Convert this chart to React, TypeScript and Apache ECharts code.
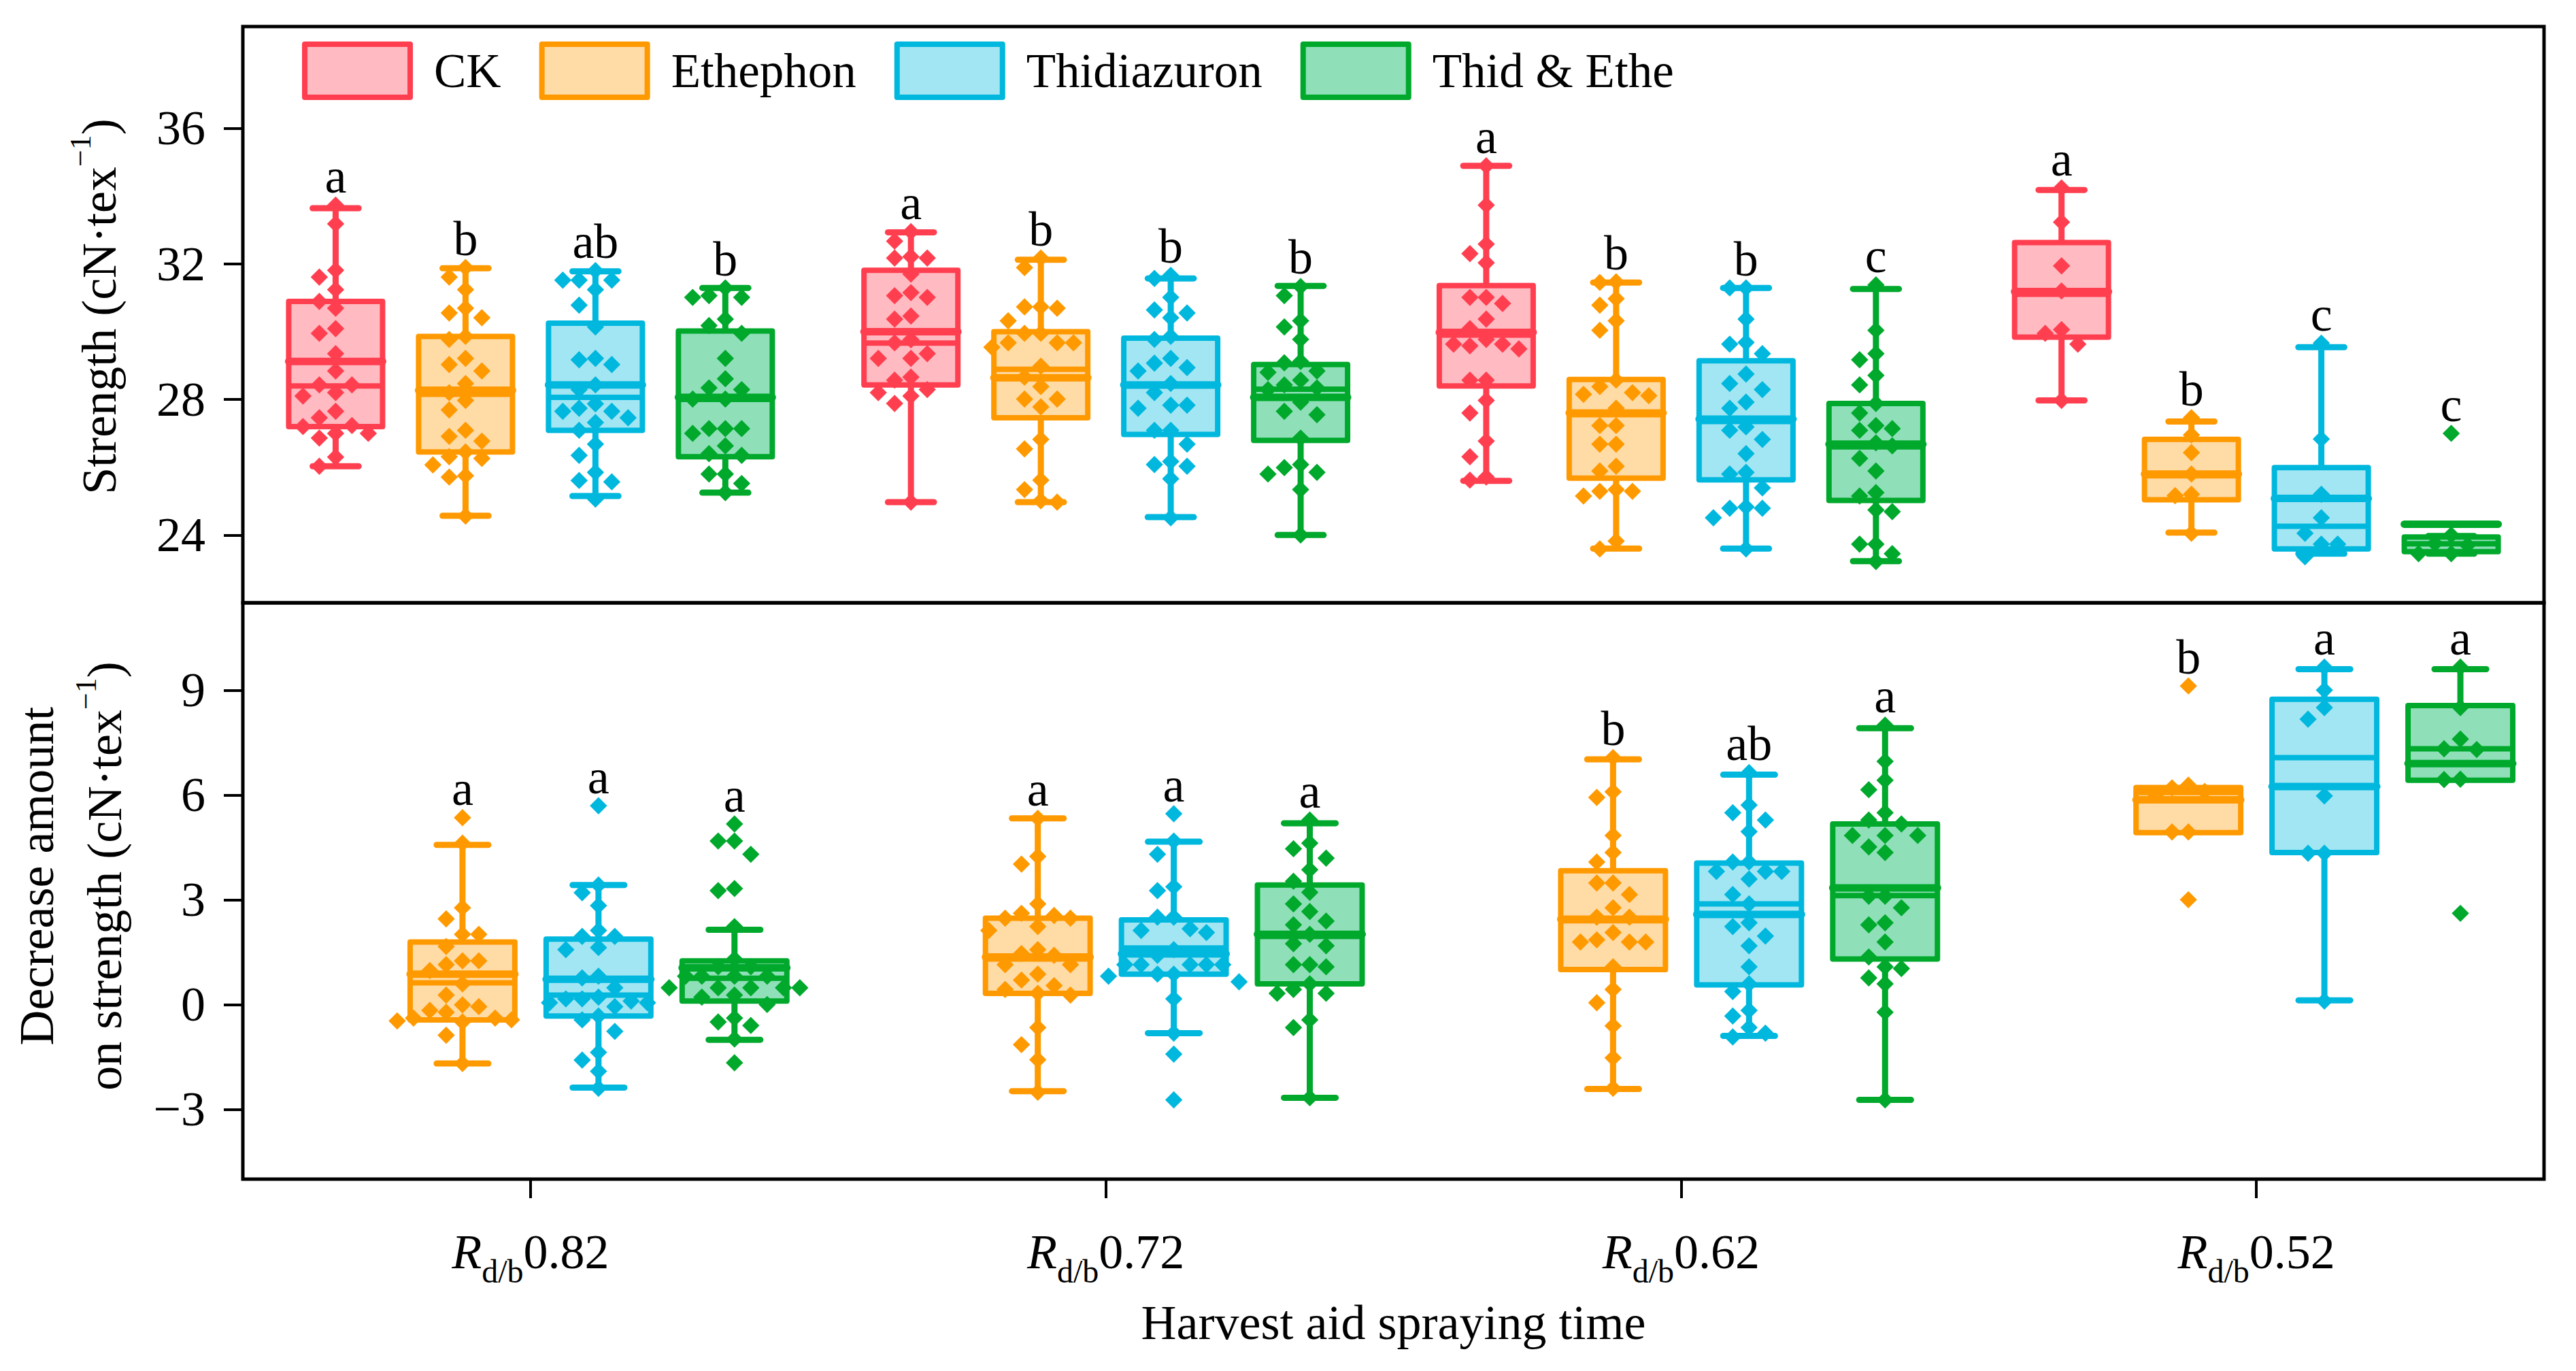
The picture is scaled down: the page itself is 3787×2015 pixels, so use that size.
import React, { useEffect, useRef } from 'react';
import * as echarts from 'echarts';

const SERIF = 'Liberation Serif, Times New Roman, serif';

const CATEGORIES = ['0.82', '0.72', '0.62', '0.52'];
const TREATMENTS = ['CK', 'Ethephon', 'Thidiazuron', 'Thid & Ethe'];
const STROKES = ['#FF3F50', '#FF9900', '#00B7DE', '#00A82C'];
const FILLS = ['#FFBAC2', '#FFDBA6', '#A3E6F3', '#8FE0B9'];

const STRENGTH_TICKS = [24, 28, 32, 36];
const DECREASE_TICKS = [-3, 0, 3, 6, 9];

// Box statistics per category: [lower whisker, Q1, median, mean, Q3, upper whisker]
const STRENGTH_BOX_CK = [
  [26.03, 27.2, 28.4, 29.12, 30.89, 33.64],
  [24.97, 28.43, 29.66, 30.0, 31.81, 32.93],
  [25.6, 28.4, 29.9, 29.98, 31.36, 34.89],
  [27.97, 29.84, 31.1, 31.18, 32.63, 34.18],
];
const STRENGTH_BOX_ETH = [
  [24.57, 26.45, 28.15, 28.27, 29.86, 31.87],
  [24.97, 27.46, 28.89, 28.64, 30.0, 32.12],
  [23.6, 25.68, 27.55, 27.6, 28.59, 31.45],
  [24.07, 25.04, 25.75, 25.8, 26.82, 27.35],
];
const STRENGTH_BOX_THID = [
  [25.15, 27.09, 28.06, 28.43, 30.25, 31.78],
  [24.53, 26.97, 28.4, 28.43, 29.81, 31.57],
  [23.6, 25.63, 27.35, 27.42, 29.14, 31.29],
  [23.45, 23.59, 24.26, 25.08, 25.99, 29.54],
];
const STRENGTH_BOX_TE = [
  [25.25, 26.31, 28.0, 28.06, 30.02, 31.29],
  [24.0, 26.79, 28.3, 28.06, 29.03, 31.35],
  [23.23, 25.02, 26.6, 26.68, 27.88, 31.26],
  [23.45, 23.51, 23.74, 24.32, 23.94, 23.97],
];

// Individual observations per category
const STRENGTH_PTS_CK = [
  [33.73, 33.18, 31.81, 31.61, 31.24, 30.89, 30.69, 30.09, 29.95, 29.35, 28.84, 28.43, 28.43, 28.2, 28.1, 27.65, 27.46, 27.23, 27.0, 27.0, 27.2, 26.86, 26.3, 26.03],
  [32.95, 32.67, 32.17, 32.17, 32.21, 31.7, 31.06, 31.01, 31.15, 30.46, 30.37, 29.76, 29.67, 29.35, 29.21, 29.21, 28.66, 28.57, 28.29, 28.1, 28.2, 27.88, 24.97],
  [34.89, 33.73, 32.58, 32.3, 32.03, 31.01, 30.83, 31.01, 30.37, 30.09, 29.77, 29.63, 29.49, 29.58, 29.63, 28.57, 28.57, 27.97, 27.6, 26.77, 26.31, 25.71, 25.62],
  [34.24, 33.23, 31.94, 31.2, 29.95, 30.06, 29.63, 27.97],
];
const STRENGTH_PTS_ETH = [
  [31.89, 31.61, 31.24, 30.69, 30.55, 30.41, 29.86, 29.77, 29.21, 29.03, 28.84, 28.47, 28.2, 27.97, 27.69, 27.09, 26.91, 26.77, 26.45, 26.31, 26.26, 26.07, 25.75, 25.71, 24.56],
  [32.17, 31.89, 30.69, 30.73, 30.73, 30.32, 29.95, 29.95, 29.67, 29.54, 29.67, 29.67, 28.98, 28.66, 28.38, 28.01, 28.01, 27.78, 26.82, 26.54, 25.62, 25.34, 25.01, 24.97],
  [31.45, 31.47, 30.97, 30.78, 30.32, 30.04, 28.57, 28.2, 28.38, 28.11, 28.15, 27.74, 27.23, 27.23, 26.68, 26.68, 26.03, 25.89, 25.29, 25.29, 25.34, 25.15, 23.82, 23.59],
  [27.46, 26.95, 26.43, 25.8, 25.16, 25.2, 24.05],
];
const STRENGTH_PTS_THID = [
  [31.8, 31.52, 31.52, 31.52, 31.24, 30.78, 30.14, 29.17, 29.03, 29.21, 28.43, 28.29, 27.87, 27.74, 27.65, 27.65, 27.46, 27.32, 27.09, 26.68, 26.35, 25.85, 25.57, 25.61, 25.06],
  [31.57, 31.66, 31.01, 30.55, 30.64, 30.41, 29.86, 29.77, 29.21, 29.07, 28.94, 28.84, 28.47, 28.2, 27.83, 27.74, 27.83, 27.09, 27.09, 26.68, 26.03, 26.08, 26.17, 25.66, 24.51],
  [31.29, 31.29, 30.37, 29.68, 29.63, 29.35, 28.75, 28.47, 28.29, 27.92, 27.74, 27.19, 27.09, 26.82, 26.4, 25.8, 25.85, 25.39, 24.83, 24.79, 24.79, 24.51, 23.59],
  [29.66, 26.83, 25.2, 24.51, 24.05, 23.73, 23.73, 23.36],
];
const STRENGTH_PTS_TE = [
  [31.29, 31.06, 31.01, 31.01, 30.37, 30.18, 29.95, 29.21, 28.61, 28.34, 28.29, 28.01, 28.01, 27.14, 27.0, 27.14, 27.14, 26.63, 26.4, 26.35, 25.8, 25.8, 25.52, 25.25],
  [31.33, 31.06, 30.32, 30.14, 29.77, 29.08, 29.12, 28.8, 28.84, 28.57, 28.43, 28.34, 28.29, 27.92, 27.65, 27.55, 26.86, 26.08, 25.8, 25.85, 25.99, 25.34, 24.0],
  [31.38, 30.04, 29.35, 29.17, 28.71, 28.43, 27.88, 27.6, 27.23, 27.14, 27.09, 26.72, 26.63, 26.26, 25.89, 25.25, 25.15, 24.74, 24.69, 23.73, 23.73, 23.45, 23.22],
  [27.0, 24.0, 23.75, 23.7, 23.45, 23.45],
];

const STRENGTH_LETTERS_CK = ['a', 'a', 'a', 'a'];
const STRENGTH_LETTERS_ETH = ['b', 'b', 'b', 'b'];
const STRENGTH_LETTERS_THID = ['ab', 'b', 'b', 'c'];
const STRENGTH_LETTERS_TE = ['b', 'b', 'c', 'c'];

const DECREASE_BOX_ETH = [
  [-1.69, -0.44, 0.62, 0.87, 1.79, 4.57],
  [-2.48, 0.32, 1.3, 1.36, 2.47, 5.33],
  [-2.42, 1.0, 2.4, 2.44, 3.83, 7.02],
  [4.92, 4.92, 6.07, 5.86, 6.21, 6.21],
];
const DECREASE_BOX_THID = [
  [-2.38, -0.33, 0.27, 0.72, 1.87, 3.42],
  [-0.82, 0.87, 1.62, 1.45, 2.42, 4.66],
  [-0.9, 0.56, 2.88, 2.58, 4.05, 6.58],
  [0.12, 4.35, 7.07, 6.24, 8.74, 9.6],
];
const DECREASE_BOX_TE = [
  [-1.01, 0.1, 0.75, 1.05, 1.25, 2.14],
  [-2.67, 0.59, 1.95, 2.01, 3.42, 5.19],
  [-2.73, 1.3, 3.12, 3.34, 5.17, 7.91],
  [6.42, 6.42, 7.32, 6.9, 8.56, 9.6],
];

const DECREASE_PTS_ETH = [
  [5.35, 4.62, 2.77, 2.45, 2.01, 2.01, 1.66, 1.25, 1.25, 1.14, 0.97, 0.59, 0.27, -0.01, -0.06, -0.22, -0.39, -0.5, -0.39, -0.44, -0.47, -0.17, -0.88, -1.69],
  [5.33, 4.24, 4.02, 2.88, 2.61, 2.55, 2.47, 2.47, 2.23, 2.12, 1.57, 1.46, 1.41, 1.14, 1.14, 0.87, 0.7, 0.54, 0.43, 0.27, 0.32, -0.66, -1.15, -1.58, -2.51],
  [7.07, 6.09, 5.93, 4.84, 4.35, 4.08, 3.48, 3.48, 3.15, 2.77, 2.5, 2.5, 1.85, 1.79, 1.79, 1.79, 2.06, 1.08, 0.43, 0.05, -0.61, -1.53, -2.4],
  [9.12, 6.28, 6.2, 6.1, 6.0, 4.94, 4.94, 3.0],
];
const DECREASE_PTS_THID = [
  [5.69, 3.42, 3.2, 2.83, 2.12, 1.95, 1.95, 1.63, 1.57, 0.76, 0.81, 0.48, 0.21, 0.16, 0.05, 0.05, 0.1, 0.16, -0.06, -0.44, -0.33, -0.77, -1.37, -1.59, -1.91, -2.4],
  [5.46, 4.68, 4.3, 3.37, 3.26, 2.5, 2.5, 2.12, 2.06, 2.17, 1.57, 1.41, 1.14, 1.14, 1.14, 1.14, 1.14, 0.87, 0.81, 0.87, 0.65, 0.16, -0.82, -1.42, -2.73],
  [6.64, 5.71, 5.49, 5.28, 4.95, 4.08, 4.08, 3.81, 3.81, 3.81, 3.59, 3.15, 2.88, 2.34, 2.23, 1.96, 1.68, 1.08, 0.59, 0.37, -0.17, -0.33, -0.82, -0.66, -0.93],
  [9.66, 9.0, 8.5, 8.17, 5.97, 4.33, 4.33, 0.1],
];
const DECREASE_PTS_TE = [
  [5.17, 4.68, 4.68, 4.3, 3.32, 3.26, 2.23, 1.3, 1.08, 1.08, 0.81, 0.81, 0.81, 0.81, 0.48, 0.48, 0.48, 0.48, 0.48, 0.27, 0.21, 0.0, -0.39, -0.6, -0.5, -0.99, -1.67],
  [5.28, 4.62, 4.46, 4.19, 3.86, 3.53, 3.21, 2.88, 2.66, 2.39, 2.28, 2.01, 1.74, 1.68, 1.14, 1.08, 1.14, 0.59, 0.32, 0.32, 0.43, -0.44, -0.66, -2.67],
  [8.0, 6.96, 6.42, 6.15, 5.49, 5.17, 5.28, 4.84, 4.84, 4.84, 4.51, 4.35, 3.1, 3.1, 2.77, 2.34, 2.28, 1.79, 1.36, 1.03, 1.08, 0.76, 0.59, -0.22, -2.73],
  [9.66, 8.5, 7.6, 7.32, 7.3, 6.45, 6.44, 2.61],
];

const DECREASE_LETTERS_ETH = ['a', 'a', 'b', 'b'];
const DECREASE_LETTERS_THID = ['a', 'a', 'ab', 'a'];
const DECREASE_LETTERS_TE = ['a', 'a', 'a', 'a'];

// ---------- layout helpers ----------
// deterministic beeswarm: assign a column index to each point so that
// points closer than `thr` (value units) never share a column
function swarm(values: number[], thr: number): number[] {
  const order = values.map((_, i) => i).sort((a, b) => values[b] - values[a]);
  const placed: { v: number; c: number }[] = [];
  const cols: number[] = new Array(values.length).fill(0);
  const tryCols = [0, -1, 1, -2, 2, -3, 3, -4, 4];
  for (const i of order) {
    const v = values[i];
    for (const c of tryCols) {
      if (!placed.some((p) => p.c === c && Math.abs(p.v - v) < thr)) {
        cols[i] = c;
        placed.push({ v, c });
        break;
      }
    }
  }
  return cols;
}

const COL_STEP = 24;
const DIAMOND_R = 12.7;

type Panel = {
  grid: number;
  boxes: (number[][] | null)[];
  points: (number[][] | null)[];
  letters: (string[] | null)[];
  slotStep: number;
  boxFrac: number;
  capFrac: number;
  thr: number;
};

const PANELS: Panel[] = [
  {
    grid: 0,
    boxes: [STRENGTH_BOX_CK, STRENGTH_BOX_ETH, STRENGTH_BOX_THID, STRENGTH_BOX_TE],
    points: [STRENGTH_PTS_CK, STRENGTH_PTS_ETH, STRENGTH_PTS_THID, STRENGTH_PTS_TE],
    letters: [STRENGTH_LETTERS_CK, STRENGTH_LETTERS_ETH, STRENGTH_LETTERS_THID, STRENGTH_LETTERS_TE],
    slotStep: 0.2258,
    boxFrac: 0.1632,
    capFrac: 0.08,
    thr: 0.5,
  },
  {
    grid: 1,
    boxes: [null, DECREASE_BOX_ETH, DECREASE_BOX_THID, DECREASE_BOX_TE],
    points: [null, DECREASE_PTS_ETH, DECREASE_PTS_THID, DECREASE_PTS_TE],
    letters: [null, DECREASE_LETTERS_ETH, DECREASE_LETTERS_THID, DECREASE_LETTERS_TE],
    slotStep: 0.2364,
    boxFrac: 0.182,
    capFrac: 0.09,
    thr: 0.49,
  },
];

function buildSeries(): any[] {
  const series: any[] = [];
  PANELS.forEach((panel) => {
    TREATMENTS.forEach((name, t) => {
      const boxes = panel.boxes[t];
      const pts = panel.points[t];
      const letters = panel.letters[t];
      if (!boxes || !pts || !letters) return;
      const stroke = STROKES[t];
      const fill = FILLS[t];
      const slotOff = (t - 1.5) * panel.slotStep;
      const boxData = boxes.map((b, ci) => [ci, ...b, Math.max(b[5], ...pts[ci])]);
      series.push({
        type: 'custom',
        name,
        xAxisIndex: panel.grid,
        yAxisIndex: panel.grid,
        z: 2,
        data: boxData,
        renderItem: (params: any, api: any) => {
          const ci = api.value(0);
          const lo = api.value(1);
          const q1 = api.value(2);
          const med = api.value(3);
          const mean = api.value(4);
          const q3 = api.value(5);
          const hi = api.value(6);
          const top = api.value(7);
          const band = api.size([1, 0])[0];
          const base = api.coord([ci, med]);
          const cx = base[0] + slotOff * band;
          const w = panel.boxFrac * band;
          const cap = panel.capFrac * band;
          const Y = (v: number) => api.coord([ci, v])[1];
          const children: any[] = [];
          if (hi > q3) {
            children.push({ type: 'line', shape: { x1: cx, y1: Y(hi), x2: cx, y2: Y(q3) }, style: { stroke, lineWidth: 9 } });
            children.push({ type: 'line', shape: { x1: cx - cap / 2, y1: Y(hi), x2: cx + cap / 2, y2: Y(hi) }, style: { stroke, lineWidth: 9, lineCap: 'round' } });
          }
          if (lo < q1) {
            children.push({ type: 'line', shape: { x1: cx, y1: Y(q1), x2: cx, y2: Y(lo) }, style: { stroke, lineWidth: 9 } });
            children.push({ type: 'line', shape: { x1: cx - cap / 2, y1: Y(lo), x2: cx + cap / 2, y2: Y(lo) }, style: { stroke, lineWidth: 9, lineCap: 'round' } });
          }
          children.push({
            type: 'rect',
            shape: { x: cx - w / 2, y: Y(q3), width: w, height: Y(q1) - Y(q3) },
            style: { fill, stroke, lineWidth: 8, lineJoin: 'round' },
          });
          children.push({ type: 'line', shape: { x1: cx - w / 2, y1: Y(med), x2: cx + w / 2, y2: Y(med) }, style: { stroke, lineWidth: 8 } });
          children.push({ type: 'line', shape: { x1: cx - w / 2, y1: Y(mean), x2: cx + w / 2, y2: Y(mean) }, style: { stroke, lineWidth: 11, lineCap: 'round' } });
          children.push({
            type: 'text',
            x: cx,
            y: Y(top) - 18 - 24.3,
            style: {
              text: letters[params.dataIndex],
              fill: '#000',
              fontSize: 72,
              fontFamily: SERIF,
              align: 'center',
              verticalAlign: 'middle',
            },
          });
          return { type: 'group', children };
        },
      });
      const ptData: number[][] = [];
      pts.forEach((arr, ci) => {
        const cols = swarm(arr, panel.thr);
        arr.forEach((v, k) => ptData.push([ci, v, cols[k]]));
      });
      series.push({
        type: 'custom',
        name,
        xAxisIndex: panel.grid,
        yAxisIndex: panel.grid,
        z: 3,
        data: ptData,
        renderItem: (params: any, api: any) => {
          const ci = api.value(0);
          const v = api.value(1);
          const col = api.value(2);
          const band = api.size([1, 0])[0];
          const p = api.coord([ci, v]);
          const x = p[0] + slotOff * band + col * COL_STEP;
          const y = p[1];
          const r = DIAMOND_R;
          return {
            type: 'polygon',
            shape: { points: [[x, y - r], [x + r, y], [x, y + r], [x - r, y]] },
            style: { fill: stroke },
          };
        },
      });
    });
  });
  return series;
}

const axisText = { fontFamily: SERIF, fontSize: 72, color: '#000' };
const tickStyle = { show: true, length: 28, lineStyle: { color: '#000', width: 4 } };

function buildOption(): any {
  return {
    animation: false,
    backgroundColor: '#ffffff',
    legend: {
      left: 444,
      top: 61,
      padding: 0,
      itemWidth: 155,
      itemHeight: 78,
      itemGap: 56,
      selectedMode: false,
      textStyle: { fontFamily: SERIF, fontSize: 71, color: '#000', padding: [0, 0, 0, 30] },
      data: TREATMENTS.map((name, i) => ({
        name,
        icon: 'rect',
        itemStyle: { color: FILLS[i], borderColor: STROKES[i], borderWidth: 8, borderJoin: 'round' },
      })),
    },
    grid: [
      { left: 357, top: 39, width: 3383, height: 847, show: true, borderColor: '#000', borderWidth: 5, backgroundColor: 'transparent' },
      { left: 357, top: 886, width: 3383, height: 847, show: true, borderColor: '#000', borderWidth: 5, backgroundColor: 'transparent' },
    ],
    xAxis: [
      {
        gridIndex: 0,
        type: 'category',
        position: 'bottom',
        data: CATEGORIES,
        axisLine: { show: false, onZero: false },
        axisTick: { show: false },
        axisLabel: { show: false },
        splitLine: { show: false },
      },
      {
        gridIndex: 1,
        type: 'category',
        position: 'bottom',
        data: CATEGORIES,
        axisLine: { show: false, onZero: false },
        axisTick: { ...tickStyle, alignWithLabel: true },
        splitLine: { show: false },
        axisLabel: {
          margin: 54,
          formatter: (v: string) => `{r|R}{s|d/b}{m|${v}}`,
          rich: {
            r: { fontFamily: SERIF, fontSize: 72, fontStyle: 'italic', lineHeight: 105, color: '#000' },
            s: { fontFamily: SERIF, fontSize: 48, lineHeight: 48, verticalAlign: 'bottom', color: '#000' },
            m: { fontFamily: SERIF, fontSize: 72, lineHeight: 105, color: '#000' },
          },
        },
        name: 'Harvest aid spraying time',
        nameLocation: 'middle',
        nameGap: 175,
        nameTextStyle: { ...axisText, lineHeight: 72 },
      },
    ],
    yAxis: [
      {
        gridIndex: 0,
        type: 'value',
        min: 22,
        max: 39,
        axisLine: { show: false, onZero: false },
        splitLine: { show: false },
        axisTick: { ...tickStyle, customValues: STRENGTH_TICKS },
        axisLabel: { ...axisText, margin: 55, customValues: STRENGTH_TICKS },
        name: '{m|Strength (cN·tex}{sup|−1}{m|)}',
        nameLocation: 'middle',
        nameRotate: 90,
        nameGap: 161,
        nameTextStyle: {
          ...axisText,
          padding: [0, 0, 0, 24],
          rich: {
            m: { fontFamily: SERIF, fontSize: 72, lineHeight: 100, color: '#000' },
            sup: { fontFamily: SERIF, fontSize: 44, lineHeight: 55, verticalAlign: 'top', color: '#000' },
          },
        },
      },
      {
        gridIndex: 1,
        type: 'value',
        min: -5,
        max: 11.5,
        axisLine: { show: false, onZero: false },
        splitLine: { show: false },
        axisTick: { ...tickStyle, customValues: DECREASE_TICKS },
        axisLabel: {
          ...axisText,
          margin: 55,
          customValues: DECREASE_TICKS,
          formatter: (v: number) => String(v).replace('-', '−'),
        },
        name: '{m|Decrease amount}\n{m|on strength (cN·tex}{sup|−1}{m|)}',
        nameLocation: 'middle',
        nameRotate: 90,
        nameGap: 153,
        nameTextStyle: {
          ...axisText,
          padding: [0, 0, 0, 44],
          rich: {
            m: { fontFamily: SERIF, fontSize: 72, lineHeight: 100, color: '#000' },
            sup: { fontFamily: SERIF, fontSize: 44, lineHeight: 55, verticalAlign: 'top', color: '#000' },
          },
        },
      },
    ],
    series: buildSeries(),
  };
}

export default function App() {
  const ref = useRef<HTMLDivElement | null>(null);
  useEffect(() => {
    if (!ref.current) return;
    const chart = echarts.init(ref.current, null, { renderer: 'svg' });
    chart.setOption(buildOption());
    return () => chart.dispose();
  }, []);
  return (
    <div
      ref={ref}
      style={{ position: 'absolute', left: 0, top: 0, width: 3787, height: 2015, background: '#fff' }}
    />
  );
}
